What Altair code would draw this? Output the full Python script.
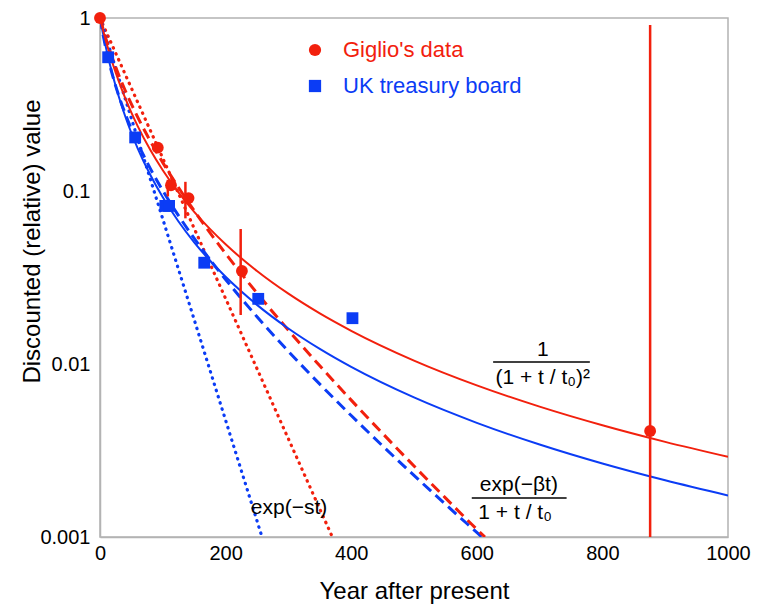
import altair as alt
import pandas as pd

RED = "#f2200d"
BLUE = "#0b3cf5"
FONT = "Liberation Sans"

# ---- observed points ----
giglio_t = [0, 92, 113, 141, 226, 876]
giglio_v = [1.0, 0.178, 0.108, 0.091, 0.0345, 0.0041]

uk_t = [13, 56, 104, 110, 166, 252, 402]
uk_v = [0.593, 0.204, 0.082, 0.082, 0.0385, 0.0238, 0.0184]

# ---- Giglio error bars ----
err_t = [108, 136, 224, 876]
err_lo = [0.093, 0.0695, 0.0192, 0.001]
err_hi = [0.116, 0.113, 0.0603, 0.91]

# ---- model curves ----
curve_t = [0, 10, 20, 30, 40, 50, 60, 80, 100, 125, 150, 175, 200, 250, 300,
           350, 400, 500, 600, 700, 800, 900, 1000]
red_hyper = [1.0, 0.7238, 0.548, 0.4293, 0.3453, 0.2838, 0.2373, 0.1731, 0.1318,
             0.0981, 0.07583, 0.06036, 0.04919, 0.03447, 0.02549, 0.01961, 0.01556,
             0.01047, 0.007527, 0.00567, 0.004424, 0.003548, 0.002908]
blue_hyper = [1.0, 0.6611, 0.4693, 0.3502, 0.2714, 0.2164, 0.1766, 0.1241, 0.09189,
              0.06665, 0.05054, 0.03963, 0.03191, 0.02197, 0.01604, 0.01222, 0.00962,
              0.006406, 0.00457, 0.003423, 0.002659, 0.002126, 0.001738]

dash_t = [0, 10, 20, 30, 40, 50, 60, 80, 100, 125, 150, 175, 200, 250, 300,
          350, 400, 450, 500, 550, 600]
red_dash = [1.0, 0.748, 0.5828, 0.4671, 0.3821, 0.3176, 0.2673, 0.1947, 0.1459,
            0.1047, 0.07684, 0.0574, 0.04347, 0.02571, 0.01567, 0.00976, 0.006183,
            0.003967, 0.002573, 0.001683, 0.001109]
red_dash_end = (613, 0.001)
blue_dash = [1.0, 0.6485, 0.466, 0.3551, 0.2809, 0.2281, 0.189, 0.1351, 0.1005,
             0.07209, 0.05323, 0.04016, 0.03079, 0.01876, 0.01183, 0.007648, 0.005035,
             0.003361, 0.00227, 0.001547, 0.001062]
blue_dash_end = (608, 0.001)

red_dot_t = [0, 100, 200, 300, 370]
red_dot = [1.0, 0.1546, 0.0239, 0.003694, 0.001]
blue_dot_t = [0, 100, 200, 258]
blue_dot = [1.0, 0.0688, 0.00473, 0.001]

# ---- annotation texts (in data coordinates) ----
ann_text = ["1", "(1 + t / t\u2080)\u00b2", "exp(\u2212\u03b2t)", "1 + t / t\u2080", "exp(\u2212st)"]
ann_t = [705, 705, 667, 661, 301]
ann_v = [0.01205, 0.0083, 0.00200, 0.00138, 0.00147]
bar_t1 = [626, 592]
bar_t2 = [780, 743]
bar_v = [0.01027, 0.00168]

# ---------------------------------------------------------------
x_scale = alt.Scale(domain=[0, 1000], nice=False)
y_scale = alt.Scale(type="log", domain=[0.001, 1], nice=False, clamp=True)

common_axis = dict(ticks=False, grid=False, domainColor="#b3b3b3", domainWidth=1.5,
                   labelFont=FONT, labelFontSize=20, labelColor="black",
                   titleFont=FONT, titleFontSize=24, titleFontWeight="normal", titleColor="black")
x_axis = alt.Axis(values=[0, 200, 400, 600, 800, 1000], format="d", title="Year after present",
                  labelPadding=6, titlePadding=16, labelFlush=False, **common_axis)
y_axis = alt.Axis(values=[0.001, 0.01, 0.1, 1], format="~g", title="Discounted (relative) value",
                  labelPadding=10, titlePadding=-5, titleY=223, **common_axis)


def curve(ts, vs, color, dash=None, width=2.0, cap="butt", end=None):
    tt = list(ts)
    vv = list(vs)
    if end is not None:
        tt.append(end[0])
        vv.append(end[1])
    df = pd.DataFrame({"t": tt, "v": vv})
    kw = dict(color=color, strokeWidth=width, strokeCap=cap, interpolate="monotone", clip=True)
    if dash is not None:
        kw["strokeDash"] = dash
    return alt.Chart(df).mark_line(**kw).encode(
        x=alt.X("t:Q", scale=x_scale, axis=x_axis),
        y=alt.Y("v:Q", scale=y_scale, axis=y_axis),
    )


lines = [
    curve(red_dot_t, red_dot, RED, dash=[0.5, 6], width=3.2, cap="round"),
    curve(blue_dot_t, blue_dot, BLUE, dash=[0.5, 6], width=3.2, cap="round"),
    curve(dash_t, blue_dash, BLUE, dash=[11, 6], width=3.0, end=blue_dash_end),
    curve(dash_t, red_dash, RED, dash=[11, 6], width=3.0, end=red_dash_end),
    curve(curve_t, blue_hyper, BLUE, width=2.0),
    curve(curve_t, red_hyper, RED, width=2.0),
]

err_df = pd.DataFrame({"t": err_t, "lo": err_lo, "hi": err_hi})
errs = alt.Chart(err_df).mark_rule(color=RED, strokeWidth=2.5).encode(
    x=alt.X("t:Q", scale=x_scale, axis=x_axis),
    y=alt.Y("lo:Q", scale=y_scale, axis=y_axis),
    y2="hi:Q",
)

pts_df = pd.concat([
    pd.DataFrame({"t": uk_t, "v": uk_v, "src": "UK treasury board"}),
    pd.DataFrame({"t": giglio_t, "v": giglio_v, "src": "Giglio's data"}),
], ignore_index=True)
pts_df["order"] = range(len(pts_df))

legend = alt.Legend(
    title=None, orient="none", legendX=204, legendY=21,
    labelFontSize=22, labelFont=FONT, labelLimit=400, symbolSize=150, symbolStrokeWidth=0,
    labelOffset=17, rowPadding=14, padding=0,
    labelColor=alt.ExprRef(expr="indexof(datum.label, 'UK') >= 0 ? '%s' : '%s'" % (BLUE, RED)),
)

pts = alt.Chart(pts_df).mark_point(filled=True, opacity=1, size=140).encode(
    x=alt.X("t:Q", scale=x_scale, axis=x_axis),
    y=alt.Y("v:Q", scale=y_scale, axis=y_axis),
    color=alt.Color("src:N", scale=alt.Scale(domain=["Giglio's data", "UK treasury board"],
                                              range=[RED, BLUE]), legend=legend),
    shape=alt.Shape("src:N", scale=alt.Scale(domain=["Giglio's data", "UK treasury board"],
                                              range=["circle", "square"]), legend=legend),
    order="order:Q",
)

ann_df = pd.DataFrame({"t": ann_t, "v": ann_v, "txt": ann_text})
ann = alt.Chart(ann_df).mark_text(font=FONT, fontSize=21, color="black", align="center",
                                  baseline="middle").encode(
    x=alt.X("t:Q", scale=x_scale, axis=x_axis),
    y=alt.Y("v:Q", scale=y_scale, axis=y_axis),
    text="txt:N",
)

bar_df = pd.DataFrame({"t1": bar_t1, "t2": bar_t2, "v": bar_v})
bars = alt.Chart(bar_df).mark_rule(color="black", strokeWidth=1.5).encode(
    x=alt.X("t1:Q", scale=x_scale, axis=x_axis),
    x2="t2:Q",
    y=alt.Y("v:Q", scale=y_scale, axis=y_axis),
)

chart = alt.layer(*lines, errs, pts, ann, bars).properties(
    width=628, height=519,
    background="white",
    autosize=alt.AutoSizeParams(type="none"),
    padding={"left": 100, "top": 18, "right": 29, "bottom": 72},
).configure_view(
    stroke="#b3b3b3", strokeWidth=1.5,
)

chart.save("out.html", embed_options={"renderer": "svg", "actions": False})
